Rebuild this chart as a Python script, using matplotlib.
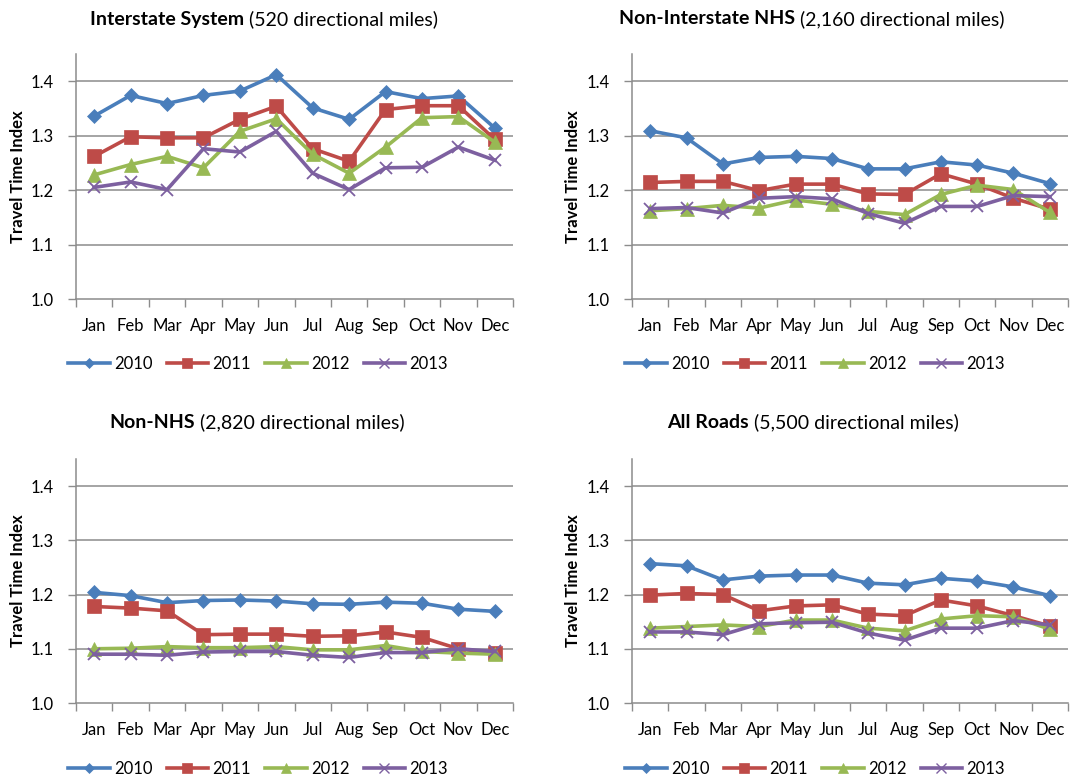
import matplotlib
matplotlib.use("Agg")
import matplotlib.pyplot as plt
from matplotlib.lines import Line2D

plt.rcParams['font.family'] = ['Lato', 'DejaVu Sans']

months = ["Jan", "Feb", "Mar", "Apr", "May", "Jun", "Jul", "Aug", "Sep", "Oct", "Nov", "Dec"]
years = ["2010", "2011", "2012", "2013"]

interstate_2010 = [1.336, 1.374, 1.359, 1.374, 1.382, 1.412, 1.351, 1.330, 1.381, 1.368, 1.373, 1.314]
interstate_2011 = [1.262, 1.298, 1.296, 1.296, 1.330, 1.354, 1.276, 1.253, 1.348, 1.355, 1.355, 1.293]
interstate_2012 = [1.228, 1.247, 1.262, 1.241, 1.308, 1.331, 1.266, 1.231, 1.279, 1.333, 1.335, 1.288]
interstate_2013 = [1.205, 1.215, 1.201, 1.276, 1.270, 1.308, 1.231, 1.201, 1.241, 1.242, 1.279, 1.255]

noninterstate_2010 = [1.309, 1.296, 1.248, 1.260, 1.262, 1.258, 1.239, 1.239, 1.252, 1.246, 1.231, 1.212]
noninterstate_2011 = [1.214, 1.216, 1.216, 1.199, 1.211, 1.211, 1.193, 1.192, 1.230, 1.211, 1.185, 1.165]
noninterstate_2012 = [1.162, 1.166, 1.172, 1.167, 1.182, 1.174, 1.161, 1.155, 1.192, 1.209, 1.201, 1.159]
noninterstate_2013 = [1.166, 1.168, 1.158, 1.185, 1.188, 1.184, 1.157, 1.139, 1.170, 1.170, 1.190, 1.188]

nonnhs_2010 = [1.204, 1.198, 1.185, 1.189, 1.190, 1.188, 1.183, 1.182, 1.186, 1.184, 1.173, 1.169]
nonnhs_2011 = [1.178, 1.175, 1.170, 1.126, 1.127, 1.127, 1.123, 1.124, 1.131, 1.121, 1.100, 1.092]
nonnhs_2012 = [1.100, 1.101, 1.104, 1.102, 1.102, 1.104, 1.098, 1.098, 1.106, 1.095, 1.092, 1.090]
nonnhs_2013 = [1.090, 1.090, 1.088, 1.094, 1.095, 1.095, 1.088, 1.084, 1.093, 1.093, 1.100, 1.095]

allroads_2010 = [1.257, 1.253, 1.227, 1.234, 1.236, 1.236, 1.221, 1.218, 1.230, 1.225, 1.214, 1.198]
allroads_2011 = [1.199, 1.202, 1.200, 1.170, 1.179, 1.181, 1.164, 1.161, 1.190, 1.179, 1.161, 1.142]
allroads_2012 = [1.138, 1.141, 1.144, 1.141, 1.153, 1.153, 1.138, 1.133, 1.155, 1.161, 1.159, 1.136]
allroads_2013 = [1.131, 1.131, 1.126, 1.146, 1.148, 1.149, 1.129, 1.116, 1.138, 1.138, 1.152, 1.144]

yticks = [1.0, 1.1, 1.2, 1.3, 1.4]

panels = [
    ("Interstate System", " (520 directional miles)",
     [interstate_2010, interstate_2011, interstate_2012, interstate_2013]),
    ("Non-Interstate NHS", " (2,160 directional miles)",
     [noninterstate_2010, noninterstate_2011, noninterstate_2012, noninterstate_2013]),
    ("Non-NHS", " (2,820 directional miles)",
     [nonnhs_2010, nonnhs_2011, nonnhs_2012, nonnhs_2013]),
    ("All Roads", " (5,500 directional miles)",
     [allroads_2010, allroads_2011, allroads_2012, allroads_2013]),
]

colors = ["#4A7EBB", "#BE4B48", "#98B954", "#7D60A0"]
markers = ["D", "s", "^", "x"]
msizes = [7.0, 9.5, 9.5, 9.0]
grid_color = "#8C8C8C"

W, H = 1070, 778
fig = plt.figure(figsize=(W / 100, H / 100), dpi=100)

# pixel geometry of plot areas: (left, right, top, bottom)
boxes = [(76, 513, 54, 299), (632, 1068, 54, 299),
         (76, 513, 459, 703), (632, 1068, 459, 703)]
title_pos = [(264, 19), (812, 19), (257, 422), (813, 422)]
legend_pos = [(258, 364), (815, 364), (258, 769), (815, 769)]
ylabel_x = [18, 573, 18, 573]

fs = 12
for i, (bold, rest, series) in enumerate(panels):
    l, r, t, b = boxes[i]
    ax = fig.add_axes([l / W, 1 - b / H, (r - l) / W, (b - t) / H])
    x = list(range(len(months)))
    for s, vals in enumerate(series):
        ax.plot(x, vals, color=colors[s], lw=2.6, marker=markers[s], ms=msizes[s],
                mew=1.3 if markers[s] == "x" else 0.5, mec=colors[s], mfc=colors[s],
                solid_joinstyle="round", zorder=3 + s)
    ax.set_xlim(-0.5, 11.5)
    ax.set_ylim(1.0, 1.45)
    ax.set_yticks(yticks)
    ax.set_yticklabels([f"{v:.1f}" for v in yticks], fontsize=fs)
    ax.set_xticks(x)
    ax.set_xticklabels(months, fontsize=fs)
    ax.set_xticks([v - 0.5 for v in range(13)], minor=True)
    ax.tick_params(axis="x", which="major", length=0, pad=14)
    ax.tick_params(axis="x", which="minor", length=6, color=grid_color, width=1)
    ax.tick_params(axis="y", length=6, color=grid_color, width=1, pad=10)
    for v in yticks[1:]:
        ax.axhline(v, color=grid_color, lw=1.1, zorder=1)
    for sp in ["top", "right"]:
        ax.spines[sp].set_visible(False)
    for sp in ["left", "bottom"]:
        ax.spines[sp].set_color(grid_color)
        ax.spines[sp].set_linewidth(1.1)
    fig.text(ylabel_x[i] / W, 1 - ((t + b) / 2) / H, "Travel Time Index",
             rotation=90, ha="center", va="center", fontsize=fs, fontweight="bold")

    # Title: bold part + regular part, centered together
    tx, ty = title_pos[i]
    t1 = fig.text(0, 1 - ty / H, bold, fontsize=14, fontweight="bold", va="center", ha="left")
    t2 = fig.text(0, 1 - ty / H, rest, fontsize=14, va="center", ha="left")
    fig.canvas.draw()
    rend = fig.canvas.get_renderer()
    w1 = t1.get_window_extent(rend).width
    w2 = t2.get_window_extent(rend).width
    x0 = tx - (w1 + w2) / 2
    t1.set_x(x0 / W)
    t2.set_x((x0 + w1) / W)

    handles = [Line2D([0], [0], color=colors[s], lw=2.6, marker=markers[s],
                      ms=msizes[s] * 0.75, mew=1.0 if markers[s] == "x" else 0.5,
                      mec=colors[s], mfc=colors[s]) for s in range(4)]
    lx, ly = legend_pos[i]
    fig.legend(handles, years, loc="center", bbox_to_anchor=(lx / W, 1 - ly / H),
               ncol=4, frameon=False, fontsize=fs, handlelength=2.5,
               handletextpad=0.25, columnspacing=0.85)

fig.savefig("out.png", dpi=100)
